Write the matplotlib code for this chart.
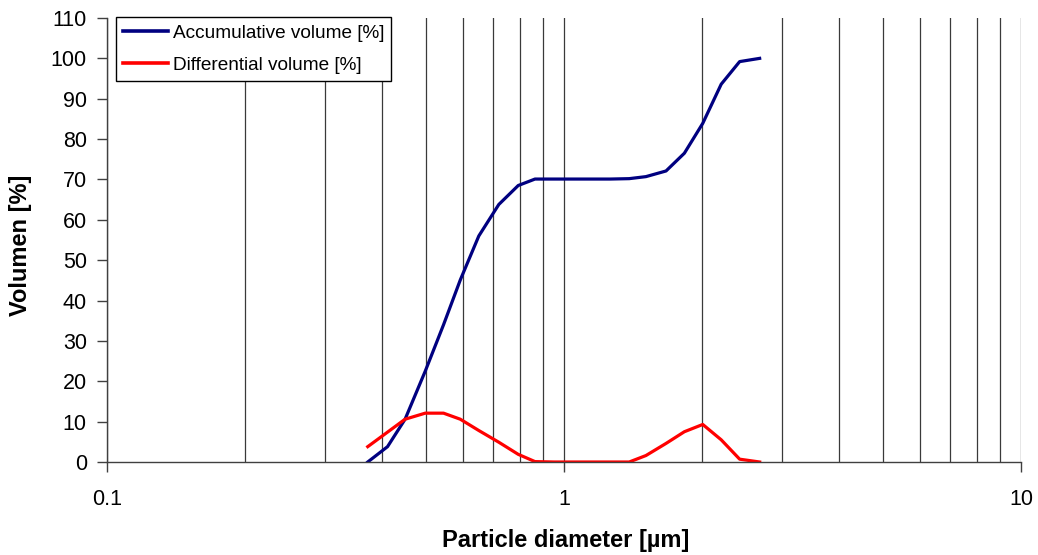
import matplotlib
matplotlib.use("Agg")
import matplotlib.pyplot as plt
from matplotlib.ticker import FixedLocator, FixedFormatter, NullFormatter

plt.rcParams['font.family'] = ['Liberation Sans', 'DejaVu Sans']

# Particle size classes [µm]
diameter = [0.372, 0.411, 0.449, 0.497, 0.545, 0.593, 0.651, 0.720, 0.794, 0.864,
            0.951, 1.047, 1.146, 1.262, 1.389, 1.511, 1.672, 1.834, 2.012, 2.208,
            2.423, 2.680]

# Cumulative volume [%]
accumulative = [0.0, 3.8, 10.6, 22.5, 34.0, 45.1, 56.0, 63.8, 68.5, 70.1,
                70.1, 70.1, 70.1, 70.1, 70.2, 70.7, 72.1, 76.5, 83.9, 93.6,
                99.2, 100.0]

# Volume per size class [%]
differential = [3.8, 7.4, 10.6, 12.1, 12.1, 10.6, 7.8, 4.9, 1.9, 0.1,
                0.0, 0.0, 0.0, 0.0, 0.0, 1.6, 4.6, 7.5, 9.3, 5.5,
                0.7, 0.0]

x_major = [0.1, 1, 10]
x_major_labels = ["0.1", "1", "10"]
x_minor = [0.2, 0.3, 0.4, 0.5, 0.6, 0.7, 0.8, 0.9, 2, 3, 4, 5, 6, 7, 8, 9]
y_ticks = list(range(0, 111, 10))

W, H = 1038, 555
L, R, T, B = 107, 1021, 18, 462

fig = plt.figure(figsize=(W / 100, H / 100), dpi=100)
ax = fig.add_axes([L / W, 1 - B / H, (R - L) / W, (B - T) / H])

ax.set_xscale('log')
ax.set_xlim(0.1, 10)
ax.set_ylim(0, 110)

ax.xaxis.set_major_locator(FixedLocator(x_major))
ax.xaxis.set_major_formatter(FixedFormatter(x_major_labels))
ax.xaxis.set_minor_locator(FixedLocator(x_minor))
ax.xaxis.set_minor_formatter(NullFormatter())
ax.set_yticks(y_ticks)

ax.grid(True, axis='x', which='both', color='#3a3a3a', linewidth=0.9)
ax.set_axisbelow(True)

ax.plot(diameter, accumulative, color='#000080', linewidth=2.3,
        label='Accumulative volume [%]', solid_joinstyle='round')
ax.plot(diameter, differential, color='#ff0000', linewidth=2.3,
        label='Differential volume [%]', solid_joinstyle='round')

for side in ('top', 'right'):
    ax.spines[side].set_visible(False)
for side in ('left', 'bottom'):
    ax.spines[side].set_color('#404040')
    ax.spines[side].set_linewidth(1.0)

ax.tick_params(axis='both', which='major', direction='out', length=7.5,
               width=1.0, color='#404040', labelsize=15.5)
ax.tick_params(axis='x', which='minor', length=0)
ax.tick_params(axis='x', which='major', pad=12)
ax.tick_params(axis='y', which='major', pad=7)

ax.set_xlabel('Particle diameter [µm]', fontsize=17, fontweight='bold')
ax.set_ylabel('Volumen [%]', fontsize=17, fontweight='bold')
ax.xaxis.label.set_va('center')
ax.yaxis.label.set_va('center')
ax.xaxis.set_label_coords((566 - L) / (R - L), (B - 540) / (B - T))
ax.yaxis.set_label_coords((21 - L) / (R - L), (B - 245) / (B - T))

leg = ax.legend(loc='upper left', bbox_to_anchor=((116 - L) / (R - L), 1.002),
                fontsize=13.7, frameon=True, fancybox=False, edgecolor='black',
                framealpha=1, handlelength=2.35, handletextpad=0.25,
                borderpad=0.38, labelspacing=0.78, borderaxespad=0)
leg.get_frame().set_linewidth(1.0)
for line in leg.get_lines():
    line.set_linewidth(2.6)

fig.savefig('out.png', dpi=100, facecolor='white')
